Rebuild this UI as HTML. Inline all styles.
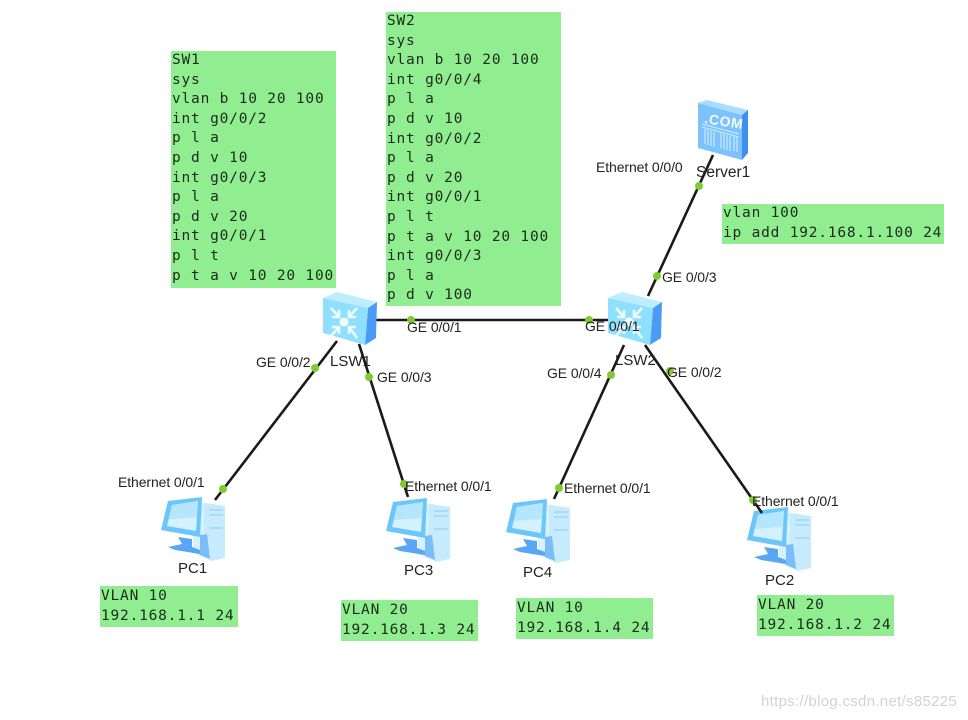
<!DOCTYPE html>
<html>
<head>
<meta charset="utf-8">
<style>
html,body{margin:0;padding:0;background:#fff}
#d{position:relative;width:968px;height:720px;overflow:hidden;background:#fff}
.b{position:absolute;background:#90ee90;font-family:"DejaVu Sans Mono","Liberation Mono",monospace;font-size:14.5px;letter-spacing:.8px;color:#1c2a1c;white-space:pre;padding-left:1px;box-sizing:border-box}
.l{position:absolute;font-family:"Liberation Sans",sans-serif;font-size:14px;color:#222;white-space:pre;line-height:14px;letter-spacing:-.1px}
.n{font-size:15px;letter-spacing:0}
svg{position:absolute;left:0;top:0}
</style>
</head>
<body>
<div id="d">
<div class="b" style="left:171px;top:51px;width:165px;height:237px;line-height:19.6px;padding-top:0">SW1
sys
vlan b 10 20 100
int g0/0/2
p l a
p d v 10
int g0/0/3
p l a
p d v 20
int g0/0/1
p l t
p t a v 10 20 100</div>
<div class="b" style="left:386px;top:12px;width:175px;height:294px;line-height:19.6px">SW2
sys
vlan b 10 20 100
int g0/0/4
p l a
p d v 10
int g0/0/2
p l a
p d v 20
int g0/0/1
p l t
p t a v 10 20 100
int g0/0/3
p l a
p d v 100</div>
<div class="b" style="left:722px;top:204px;width:222px;height:40px;line-height:19.6px">vlan 100
ip add 192.168.1.100 24</div>
<div class="b" style="left:100px;top:586px;width:138px;height:41px;line-height:20px">VLAN 10
192.168.1.1 24</div>
<div class="b" style="left:341px;top:600px;width:137px;height:41px;line-height:20px">VLAN 20
192.168.1.3 24</div>
<div class="b" style="left:516px;top:598px;width:137px;height:41px;line-height:20px">VLAN 10
192.168.1.4 24</div>
<div class="b" style="left:757px;top:595px;width:137px;height:41px;line-height:20px">VLAN 20
192.168.1.2 24</div>

<svg width="968" height="720" viewBox="0 0 968 720">
<defs>
<g id="pc">
<path d="M33 4 L52 10 L52 60 L33 56Z" fill="#a8dcfb"/>
<path d="M33 4 L65 9 L65 61 L52 64 L33 56Z" fill="#d6f1fe"/>
<path d="M44 6 L65 9 L65 61 L50 64 L44 50Z" fill="#c6ebfd"/>
<path d="M49 13h14M49 18h14M49 31h14" stroke="#8ecbf2" stroke-width="1"/>
<path d="M8 4 L42 0 L40 40 L1 33Z" fill="#6cc6fa"/>
<path d="M12 8 L38 4 L36 34 L7 29Z" fill="#d4f1fe"/>
<path d="M12 8 L38 4 L37 20 L9 22Z" fill="#b4e6fd"/>
<path d="M18 40 L32 42 L32 50 L40 53 L40 57 L15 53 L8 50 L22 47Z" fill="#5aa5f5"/>
<path d="M40 38 L47 37 L50 62 L40 58Z" fill="#7bbdf8"/>
</g>
<g id="sw">
<path d="M0 6 L14 0 L54 10 L45 16Z" fill="#bdeeff"/>
<path d="M45 16 L54 10 L53 46 L42 53Z" fill="#4a9bf3"/>
<path d="M0 6 L45 16 L42 53 L0 41Z" fill="#8fe0fd"/>
<circle cx="21" cy="30" r="4.5" fill="#f2fcff"/>
<path d="M8 16 L16 25 M16 18 L16 25 L9 25 M34 16 L26 25 M26 18 L26 25 L33 25 M8 44 L16 35 M9 35 L16 35 L16 42 M34 46 L26 35 M33 35 L26 35 L26 42" stroke="#eefaff" stroke-width="2.6" fill="none"/>
</g>
</defs>

<use href="#pc" x="160" y="497"/>
<use href="#pc" x="385" y="498"/>
<use href="#pc" x="505" y="499"/>
<use href="#pc" x="746" y="507"/>

<g transform="translate(698,100)">
<path d="M0 3 L9 0 L50 10 L44 15Z" fill="#a9ddff"/>
<path d="M44 15 L50 10 L50 53 L44 60Z" fill="#3f8fee"/>
<path d="M0 3 L44 15 L44 60 L0 48Z" fill="#7cc2fd"/>
<path d="M4 24 L41 34 M4 27 L41 37" stroke="#d5f0ff" stroke-width="1"/>
<path d="M7 29v15M10 30v15M13 31v15M16 32v15M23 33v15M26 34v15M29 35v15M32 36v15M36 36v15M39 37v15" stroke="#c4e8ff" stroke-width="1.3"/>
<text x="6" y="23" transform="rotate(9 6 23)" font-family="Liberation Sans,sans-serif" font-weight="bold" font-size="14" fill="#f2fbff" letter-spacing=".6">.COM</text>
</g>

<g stroke="#1a1a1a" stroke-width="2.6" fill="none">
<line x1="376" y1="320" x2="610" y2="320"/>
<line x1="337" y1="341" x2="215" y2="500"/>
<line x1="359" y1="344" x2="408" y2="497"/>
<line x1="648" y1="296" x2="713" y2="155"/>
<line x1="624" y1="345" x2="554" y2="499"/>
<line x1="645" y1="345" x2="762" y2="513"/>
</g>

<use href="#sw" x="323" y="292"/>
<use href="#sw" x="608" y="292"/>

<g fill="#80cc30">
<circle cx="411" cy="320" r="4"/>
<circle cx="589" cy="320" r="4"/>
<circle cx="315" cy="368" r="4"/>
<circle cx="369" cy="377" r="4"/>
<circle cx="223" cy="489" r="4"/>
<circle cx="404" cy="484" r="4"/>
<circle cx="657" cy="276" r="4"/>
<circle cx="699" cy="186" r="4"/>
<circle cx="611" cy="375" r="4"/>
<circle cx="670" cy="371" r="4"/>
<circle cx="559" cy="488" r="4"/>
<circle cx="753" cy="500" r="4"/>
</g>
</svg>

<div class="l" style="left:407px;top:320px">GE 0/0/1</div>
<div class="l" style="left:585px;top:319px">GE 0/0/1</div>
<div class="l" style="left:256px;top:355px">GE 0/0/2</div>
<div class="l" style="left:377px;top:370px">GE 0/0/3</div>
<div class="l" style="left:662px;top:270px">GE 0/0/3</div>
<div class="l" style="left:547px;top:366px">GE 0/0/4</div>
<div class="l" style="left:667px;top:365px">GE 0/0/2</div>
<div class="l" style="left:118px;top:475px">Ethernet 0/0/1</div>
<div class="l" style="left:405px;top:479px">Ethernet 0/0/1</div>
<div class="l" style="left:564px;top:481px">Ethernet 0/0/1</div>
<div class="l" style="left:752px;top:494px">Ethernet 0/0/1</div>
<div class="l" style="left:596px;top:160px">Ethernet 0/0/0</div>
<div class="l n" style="left:696px;top:166px;font-size:15.5px">Server1</div>
<div class="l n" style="left:330px;top:355px">LSW1</div>
<div class="l n" style="left:615px;top:354px">LSW2</div>
<div class="l n" style="left:178px;top:562px">PC1</div>
<div class="l n" style="left:404px;top:564px">PC3</div>
<div class="l n" style="left:523px;top:566px">PC4</div>
<div class="l n" style="left:765px;top:574px">PC2</div>
<div class="l" style="left:761px;top:695px;color:#d2d2d2;font-size:15px;letter-spacing:.3px">https://blog.csdn.net/s85225</div>
</div>
</body>
</html>
